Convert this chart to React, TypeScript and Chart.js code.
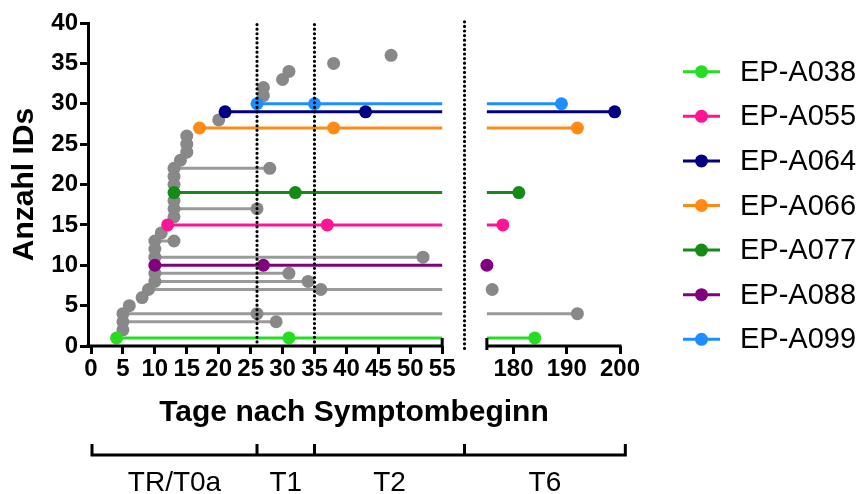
import React, { useEffect, useRef } from 'react';
import { Chart, registerables } from 'chart.js';

Chart.register(...registerables);

// ---- data ----
const patientNames = ['EP-A038', 'EP-A055', 'EP-A064', 'EP-A066', 'EP-A077', 'EP-A088', 'EP-A099'];
const patientRows = [1, 15, 29, 27, 19, 10, 30];
const patientStart = [4, 12, 21, 17, 13, 10, 26];
const patientMid = [31, 37, 43, 38, 32, 27, 35];
const patientEnd = [184, 178, 199, 192, 181, 175, 189];
const patientColors = ['#26DD22', '#FF1493', '#000080', '#FF8A14', '#168A16', '#800080', '#1E8EFF'];

const grayRows = [2, 3, 4, 5, 6, 7, 8, 9, 11, 12, 13, 14, 16, 17, 18, 20, 21, 22, 23, 24, 25, 26, 28, 31, 32, 33, 34, 35, 36];
const grayStart = [5, 5, 5, 6, 8, 9, 10, 10, 10, 10, 10, 11, 13, 13, 13, 13, 13, 13, 14, 15, 15, 15, 20, 27, 27, 30, 31, 38, 47];
const grayMid: (number | null)[] = [null, null, 26, null, null, 36, null, null, null, null, null, null, null, null, null, null, null, null, null, null, null, null, null, null, null, null, null, null, null];
const grayEnd: (number | null)[] = [null, 29, 192, null, null, 176, 34, 31, 52, null, 13, null, null, 26, null, null, null, 28, null, null, null, null, null, null, null, null, null, null, null];

const referenceDays = [26, 35];
const leftTicks = [0, 5, 10, 15, 20, 25, 30, 35, 40, 45, 50, 55];
const rightTicks = [180, 190, 200];
const yTicksMax = 40;
const phaseLabels = ['TR/T0a', 'T1', 'T2', 'T6'];

// ---- broken axis transform ----
const LEFT_MAX = 55;
const RIGHT_MIN = 175;
const RIGHT_START_AXIS = 62;
const RIGHT_FACTOR = 0.834;
const X_MIN = -0.47;
const GAP_AXIS = (LEFT_MAX + RIGHT_START_AXIS) / 2;
function toAxis(day: number): number {
  return day <= LEFT_MAX ? day : RIGHT_START_AXIS + (day - RIGHT_MIN) * RIGHT_FACTOR;
}
const X_MAX = toAxis(200);
const xTickLabels = [...leftTicks, ...rightTicks].map(String);

const FONT = '"Liberation Sans", Arial, Helvetica, sans-serif';
const R = 6.5;

function segment(row: number, start: number, mid: number | null, end: number | null, pts: any[], radii: number[]) {
  pts.push({ x: toAxis(start), y: row }); radii.push(R);
  if (mid != null) { pts.push({ x: toAxis(mid), y: row }); radii.push(R); }
  if (end != null) {
    if (end <= LEFT_MAX) {
      pts.push({ x: toAxis(end), y: row }); radii.push(R);
    } else {
      pts.push({ x: LEFT_MAX, y: row }); radii.push(0);
      pts.push({ x: GAP_AXIS, y: null }); radii.push(0);
      if (end > RIGHT_MIN) {
        pts.push({ x: toAxis(RIGHT_MIN), y: row }); radii.push(0);
      }
      pts.push({ x: toAxis(end), y: row }); radii.push(R);
    }
  }
}

const decorPlugin = {
  id: 'decor',
  afterDraw(chart: any) {
    const { ctx, chartArea } = chart;
    const x = chart.scales.x;
    const yb = chartArea.bottom;
    ctx.save();
    ctx.strokeStyle = '#000';
    ctx.lineWidth = 3;
    ctx.lineCap = 'butt';
    // broken x-axis line
    const p55 = x.getPixelForValue(LEFT_MAX);
    const p175 = x.getPixelForValue(toAxis(RIGHT_MIN));
    const p200 = x.getPixelForValue(toAxis(200));
    ctx.beginPath();
    ctx.moveTo(chartArea.left - 1.5, yb); ctx.lineTo(p55 + 1.5, yb);
    ctx.moveTo(p175 - 1.5, yb); ctx.lineTo(p200 + 1.5, yb);
    ctx.moveTo(p55, yb - 8); ctx.lineTo(p55, yb);
    ctx.moveTo(p175, yb - 8); ctx.lineTo(p175, yb + 4);
    ctx.stroke();

    // phase brackets
    const by = 455;
    const bounds = [x.getPixelForValue(0) + 1, x.getPixelForValue(toAxis(26)), x.getPixelForValue(toAxis(35)), x.getPixelForValue(GAP_AXIS), x.getPixelForValue(toAxis(201))];
    ctx.beginPath();
    ctx.moveTo(bounds[0] - 1.5, by); ctx.lineTo(bounds[4] + 1.5, by);
    bounds.forEach((b) => { ctx.moveTo(b, by - 11); ctx.lineTo(b, by + 1.5); });
    ctx.stroke();
    ctx.fillStyle = '#000';
    ctx.font = `28px ${FONT}`;
    ctx.textAlign = 'center';
    ctx.textBaseline = 'middle';
    phaseLabels.forEach((lab, i) => {
      ctx.fillText(lab, (bounds[i] + bounds[i + 1]) / 2, 483);
    });

    // legend
    ctx.font = `29px ${FONT}`;
    ctx.textAlign = 'left';
    patientNames.forEach((name, i) => {
      const ly = 71.7 + i * 44.6;
      ctx.strokeStyle = patientColors[i];
      ctx.lineWidth = 3;
      ctx.beginPath(); ctx.moveTo(683, ly); ctx.lineTo(720, ly); ctx.stroke();
      ctx.fillStyle = patientColors[i];
      ctx.beginPath(); ctx.arc(701.5, ly, R, 0, Math.PI * 2); ctx.fill();
      ctx.fillStyle = '#000';
      ctx.fillText(name, 740, ly + 1);
    });
    ctx.restore();
  },
};

export default function App() {
  const ref = useRef<HTMLCanvasElement | null>(null);
  useEffect(() => {
    if (!ref.current) return;
    Chart.defaults.font.family = FONT;

    const dotted = { borderColor: '#000', borderWidth: 3.2, borderDash: [0, 4.6], borderCapStyle: 'round', pointRadius: 0, clip: false };
    const datasets: any[] = [];
    referenceDays.forEach((d) => {
      datasets.push({ ...dotted, data: [{ x: toAxis(d), y: 0.5 }, { x: toAxis(d), y: 40.2 }] });
    });
    datasets.push({ ...dotted, data: [{ x: GAP_AXIS, y: -0.3 }, { x: GAP_AXIS, y: 40.4 }] });

    patientNames.forEach((name, i) => {
      const pts: any[] = []; const radii: number[] = [];
      segment(patientRows[i], patientStart[i], patientMid[i], patientEnd[i], pts, radii);
      datasets.push({
        label: name, data: pts, borderColor: patientColors[i], borderWidth: 3,
        pointRadius: radii, pointBackgroundColor: patientColors[i], pointBorderWidth: 0,
        pointHoverRadius: radii, spanGaps: false, clip: false, tension: 0,
      });
    });

    const gPts: any[] = []; const gRad: number[] = [];
    grayRows.forEach((row, i) => {
      if (i > 0) { gPts.push({ x: 0, y: null }); gRad.push(0); }
      segment(row, grayStart[i], grayMid[i], grayEnd[i], gPts, gRad);
    });
    datasets.push({
      label: 'other', data: gPts, borderColor: '#9A9A9A', borderWidth: 3,
      pointRadius: gRad, pointBackgroundColor: '#888888', pointBorderWidth: 0,
      pointHoverRadius: gRad, spanGaps: false, clip: false, tension: 0,
    });

    const gridOpts = { drawOnChartArea: false, drawTicks: true, tickLength: 8, tickWidth: 3, tickColor: '#000', color: '#000', lineWidth: 3 };

    const chart = new Chart(ref.current, {
      type: 'line',
      data: { datasets },
      plugins: [decorPlugin],
      options: {
        responsive: false,
        animation: false,
        events: [],
        layout: { autoPadding: false, padding: { left: 0, right: 242, top: 23, bottom: 0 } },
        plugins: { legend: { display: false }, tooltip: { enabled: false } },
        scales: {
          x: {
            type: 'linear', min: X_MIN, max: X_MAX,
            afterBuildTicks: (s: any) => {
              s.ticks = [...leftTicks.map((v) => ({ value: v })), ...rightTicks.map((v) => ({ value: toAxis(v) }))];
            },
            ticks: {
              autoSkip: false, maxRotation: 0, minRotation: 0, color: '#000', padding: 1,
              font: { size: 24, weight: 'bold' },
              callback: (_v: any, i: number) => xTickLabels[i],
            },
            grid: gridOpts,
            border: { display: false },
            title: { display: true, text: 'Tage nach Symptombeginn', color: '#000', font: { size: 30, weight: 'bold' }, padding: { top: 0, bottom: 63 } },
            afterFit: (s: any) => { s.height = 148; s.paddingLeft = 0; s.paddingRight = 0; },
          },
          y: {
            type: 'linear', min: 0, max: yTicksMax,
            ticks: { stepSize: 5, color: '#000', padding: 2, font: { size: 24, weight: 'bold' } },
            grid: gridOpts,
            border: { display: true, color: '#000', width: 3 },
            title: { display: true, text: 'Anzahl IDs', color: '#000', font: { size: 30, weight: 'bold' }, padding: { top: 7, bottom: 0 } },
            afterFit: (s: any) => { s.width = 88; s.paddingTop = 0; s.paddingBottom = 0; },
          },
        },
      } as any,
    });
    return () => chart.destroy();
  }, []);

  return (
    <div style={{ position: 'absolute', left: 0, top: 0, width: 862, height: 494, background: '#fff' }}>
      <canvas ref={ref} width={862} height={494} />
    </div>
  );
}
